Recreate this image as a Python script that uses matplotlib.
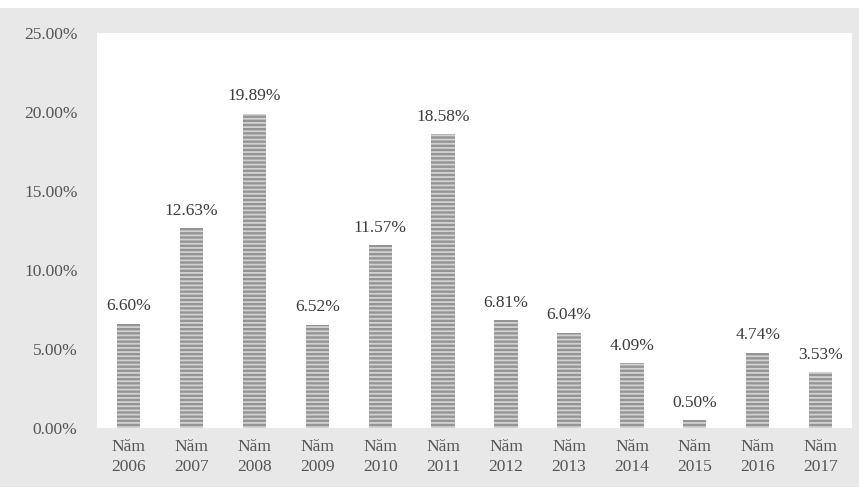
import matplotlib
matplotlib.use("Agg")
import matplotlib.pyplot as plt
from matplotlib.patches import Rectangle
from matplotlib.ticker import FuncFormatter, MultipleLocator

years = ["2006", "2007", "2008", "2009", "2010", "2011",
         "2012", "2013", "2014", "2015", "2016", "2017"]
growth = [6.60, 12.63, 19.89, 6.52, 11.57, 18.58,
          6.81, 6.04, 4.09, 0.50, 4.74, 3.53]
tick_labels = [f"Năm\n{y}" for y in years]

plt.rcParams["font.family"] = ["Liberation Serif", "DejaVu Serif"]
plt.rcParams["hatch.linewidth"] = 1.3

fig = plt.figure(figsize=(8.59, 4.91), dpi=100, facecolor="white")
# grey chart frame behind the plot area
frame = Rectangle((0.0, 0.008), 1.0, 0.976, transform=fig.transFigure,
                  facecolor="#e8e8e8", edgecolor="none", zorder=-5)
fig.add_artist(frame)

ax = fig.add_axes([0.113, 0.128, 0.879, 0.805])
ax.set_zorder(1)
ax.set_facecolor("white")

x = range(len(years))
ax.bar(x, growth, width=0.37, color="#949494", edgecolor="#d2d2d2",
       linewidth=0, hatch="----", zorder=2)

for xi, v in zip(x, growth):
    ax.annotate(f"{v:.2f}%", (xi, v), xytext=(0, 7), textcoords="offset points",
                ha="center", va="bottom", fontsize=12.5, color="#3c3c3c")

ax.set_xlim(-0.5, len(years) - 0.5)
ax.set_ylim(0, 25)
ax.yaxis.set_major_locator(MultipleLocator(5))
ax.yaxis.set_major_formatter(FuncFormatter(lambda v, _: f"{v:.2f}%"))
ax.set_xticks(list(x))
ax.set_xticklabels(tick_labels, linespacing=1.3)

ax.tick_params(axis="both", length=0, labelsize=12.5, colors="#555555")
ax.tick_params(axis="y", pad=14)
ax.tick_params(axis="x", pad=8)
for s in ax.spines.values():
    s.set_visible(False)

fig.savefig("out.png", dpi=100, facecolor=fig.get_facecolor())
